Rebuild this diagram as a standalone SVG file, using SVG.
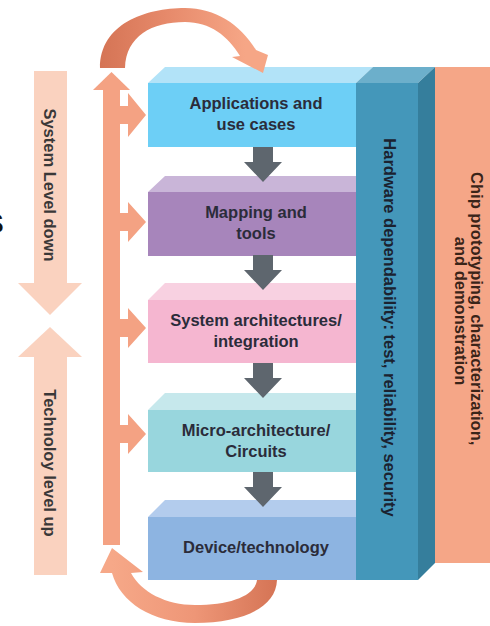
<svg xmlns="http://www.w3.org/2000/svg" width="490" height="626" viewBox="0 0 490 626">
  <defs>
    <style>
      .lbl{font-family:"Liberation Sans",Arial,Helvetica,sans-serif;font-weight:bold;font-size:16.5px;text-anchor:middle}
      .ink{fill:#2b2c3a}
      .side{fill:#3a3838}
      .down{fill:#5e666e}
      .feed{fill:#f4a283}
      .peach{fill:#fad2bf}
    </style>
    <linearGradient id="arcTop" x1="100" y1="0" x2="245" y2="0" gradientUnits="userSpaceOnUse">
      <stop offset="0" stop-color="#d57455"/>
      <stop offset="0.45" stop-color="#e6896a"/>
      <stop offset="1" stop-color="#f6a686"/>
    </linearGradient>
    <linearGradient id="arcBot" x1="277" y1="0" x2="112" y2="0" gradientUnits="userSpaceOnUse">
      <stop offset="0" stop-color="#d57455"/>
      <stop offset="0.5" stop-color="#ee9677"/>
      <stop offset="1" stop-color="#f6a888"/>
    </linearGradient>
  </defs>

  <rect width="490" height="626" fill="#ffffff"/>

  <!-- cut-off letter at the left edge -->
  <text x="-15" y="233" font-family="'Liberation Sans',Arial,sans-serif" font-weight="bold" font-size="28" fill="#111">S</text>

  <!-- level direction arrows -->
  <g id="system-level-down">
    <rect class="peach" x="34" y="71" width="33" height="213"/>
    <polygon class="peach" points="18,283 82,283 50,315"/>
    <text class="lbl side" transform="translate(50,185) rotate(90)" dominant-baseline="central">System Level down</text>
  </g>
  <g id="technology-level-up">
    <polygon class="peach" points="18,357 82,357 50,327"/>
    <rect class="peach" x="34" y="356" width="33" height="219"/>
    <text class="lbl side" transform="translate(50,463) rotate(90)" dominant-baseline="central">Technoloy level up</text>
  </g>

  <!-- layer stack -->
  <g id="applications">
    <polygon fill="#b2e3f8" points="148,83 165,67 373,67 356,83"/>
    <rect fill="#6dcff6" x="148" y="83" width="208" height="64"/>
    <text class="lbl ink" x="256" y="109">Applications and</text>
    <text class="lbl ink" x="256" y="130">use cases</text>
  </g>
  <g id="mapping">
    <polygon fill="#c9b5d8" points="148,192 165,176 373,176 356,192"/>
    <rect fill="#a785bb" x="148" y="192" width="208" height="64"/>
    <text class="lbl ink" x="256" y="218">Mapping and</text>
    <text class="lbl ink" x="256" y="239">tools</text>
  </g>
  <g id="system-architectures">
    <polygon fill="#f8d1e1" points="148,300 165,283 373,283 356,300"/>
    <rect fill="#f5b6d0" x="148" y="300" width="208" height="63"/>
    <text class="lbl ink" x="256" y="326">System architectures/</text>
    <text class="lbl ink" x="256" y="347">integration</text>
  </g>
  <g id="micro-architecture">
    <polygon fill="#c6e8ec" points="148,410 165,393 373,393 356,410"/>
    <rect fill="#98d6dd" x="148" y="410" width="208" height="62"/>
    <text class="lbl ink" x="256" y="436">Micro-architecture/</text>
    <text class="lbl ink" x="256" y="457">Circuits</text>
  </g>
  <g id="device-technology">
    <polygon fill="#b3cced" points="148,517 165,500 373,500 356,517"/>
    <rect fill="#8db4e1" x="148" y="517" width="208" height="63"/>
    <text class="lbl ink" x="256" y="553">Device/technology</text>
  </g>

  <!-- cross-cutting columns -->
  <g id="hardware-dependability">
    <polygon fill="#6cafcb" points="356,83 373,67 435,67 418,83"/>
    <polygon fill="#357e9c" points="418,83 435,67 435,563 418,580"/>
    <rect fill="#4497ba" x="356" y="83" width="62" height="497"/>
    <text class="lbl" fill="#1b2230" transform="translate(389.5,327.5) rotate(90)" dominant-baseline="central">Hardware dependability: test, reliability, security</text>
  </g>
  <g id="chip-prototyping">
    <rect fill="#f5a687" x="435" y="67" width="55" height="496"/>
    <text class="lbl" fill="#3a2419" transform="translate(469,311) rotate(90)" dominant-baseline="central">
      <tspan x="0" y="-8">Chip prototyping, characterization,</tspan>
      <tspan x="0" y="8">and demonstration</tspan>
    </text>
  </g>

  <!-- connectors -->
  <g id="connectors">
    <!-- downward flow between layers -->
    <path class="down" d="M253,147 H273 V162 H282 L263,182 L244,162 H253 Z"/>
    <path class="down" d="M253,255 H273 V270 H282 L263,290 L244,270 H253 Z"/>
    <path class="down" d="M253,363 H273 V378 H282 L263,398 L244,378 H253 Z"/>
    <path class="down" d="M253,472 H273 V487 H282 L263,507 L244,487 H253 Z"/>

    <!-- feedback spine with branches -->
    <rect class="feed" x="103" y="89" width="17" height="456"/>
    <polygon class="feed" points="93,90 111.5,72 130,90"/>
    <path class="feed" d="M119,106 H128 V93 L146,115 L128,137 V124 H119 Z"/>
    <path class="feed" d="M119,213 H128 V202 L146,222 L128,242 V231 H119 Z"/>
    <path class="feed" d="M119,319 H128 V308 L146,328 L128,348 V337 H119 Z"/>
    <path class="feed" d="M119,425 H128 V414 L146,434 L128,454 V443 H119 Z"/>

    <!-- loop over the top -->
    <path fill="url(#arcTop)" d="M100,68 C100,24 145,8 185,8 C215,8 240,24 256,50 L268,55 L263,73 L232,57 L240,56 C228,36 210,22 185,22 C152,22 126,36 125,68 Z"/>

    <!-- loop under the bottom -->
    <path fill="url(#arcBot)" d="M277,580 C276,608 242,623 195,623 C152,623 120,602 112,573 L100,573 L112,548 L143,572 L131,573 C141,592 166,605 195,605 C230,605 255,596 257,580 Z"/>
  </g>
</svg>
